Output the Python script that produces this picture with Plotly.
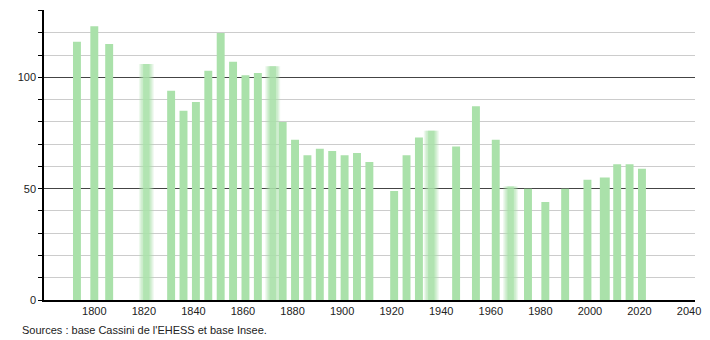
import plotly.graph_objects as go

years = [1793, 1800, 1806, 1821, 1831, 1836, 1841, 1846, 1851, 1856, 1861, 1866,
         1872, 1876, 1881, 1886, 1891, 1896, 1901, 1906, 1911, 1921, 1926, 1931,
         1936, 1946, 1954, 1962, 1968, 1975, 1982, 1990, 1999, 2006, 2011, 2016, 2021]
population = [116, 123, 115, 106, 94, 85, 89, 103, 120, 107, 101, 102,
              105, 80, 72, 65, 68, 67, 65, 66, 62, 49, 65, 73,
              76, 69, 87, 72, 51, 50, 44, 50, 54, 55, 61, 61, 59]
blurred_years = [1821, 1872, 1936, 1968]

x_ticks = list(range(1800, 2041, 20))
y_major = [0, 50, 100]
source_text = "Sources : base Cassini de l'EHESS et base Insee."

bar_color = "rgb(170,225,170)"
font_family = "Liberation Sans, Arial, sans-serif"

fig = go.Figure()

sharp_x = [y for y in years if y not in blurred_years]
sharp_v = [v for y, v in zip(years, population) if y not in blurred_years]
sharp_w = [4.0 if y == 2006 else 3.2 for y in sharp_x]
fig.add_trace(go.Bar(x=sharp_x, y=sharp_v, width=sharp_w,
                     marker=dict(color=bar_color, line=dict(width=0)),
                     showlegend=False, hoverinfo="x+y"))

blur_x = [y for y in years if y in blurred_years]
blur_v = [v for y, v in zip(years, population) if y in blurred_years]
for w, op in [(6.0, 0.2), (5.0, 0.25), (4.0, 0.35), (2.6, 0.75)]:
    fig.add_trace(go.Bar(x=blur_x, y=blur_v, width=[w] * len(blur_x),
                         marker=dict(color=bar_color, line=dict(width=0)),
                         opacity=op, showlegend=False, hoverinfo="x+y"))

fig.update_layout(
    width=710, height=340,
    margin=dict(l=44, r=9, t=10, b=40),
    paper_bgcolor="white", plot_bgcolor="white",
    barmode="overlay",
    font=dict(family=font_family, size=11, color="#222"),
    xaxis=dict(range=[1779.7, 2042.4], tickvals=x_ticks, showgrid=False,
               showline=True, linecolor="black", linewidth=1.5,
               ticks="", zeroline=False, fixedrange=True,
               tickfont=dict(size=11, color="#222")),
    yaxis=dict(range=[0, 130.3], tickvals=y_major, showgrid=True,
               gridcolor="#444", gridwidth=1.2,
               showline=True, linecolor="black", linewidth=1.5,
               ticks="outside", ticklen=4, tickcolor="black", tickwidth=1,
               zeroline=False, fixedrange=True,
               minor=dict(dtick=10, showgrid=True, gridcolor="#cccccc",
                          gridwidth=1, ticks="outside", ticklen=4,
                          tickcolor="black", tickwidth=1),
               tickfont=dict(size=11, color="#222")),
    annotations=[dict(text=source_text, xref="paper", yref="paper",
                      x=-0.0365, y=-0.103, xanchor="left", yanchor="middle",
                      showarrow=False, font=dict(size=11, color="#222"))],
)

fig.write_html("out.html")
